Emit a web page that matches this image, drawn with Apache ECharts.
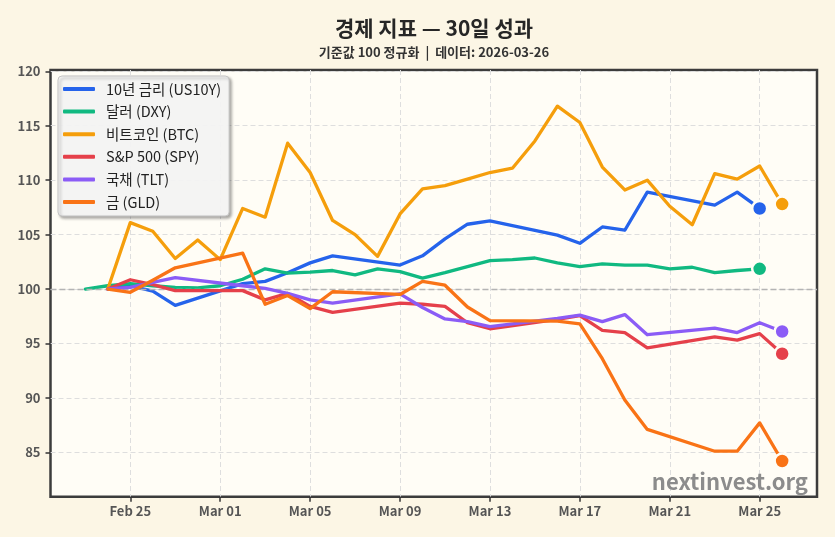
<!DOCTYPE html>
<html>
<head>
<meta charset="utf-8">
<script src="https://cdn.jsdelivr.net/npm/echarts@6/dist/echarts.min.js"></script>
<style>
  html, body { margin: 0; padding: 0; background: #fcf6e5; }
  #main { width: 835px; height: 537px; }
</style>
</head>
<body>
<div id="main"></div>
<script>
// 날짜: Feb 23 ~ Mar 26 (Feb 25 = 0)
const days = ['Feb 23','Feb 24','Feb 25','Feb 26','Feb 27','Feb 28','Mar 01','Mar 02','Mar 03','Mar 04',
  'Mar 05','Mar 06','Mar 07','Mar 08','Mar 09','Mar 10','Mar 11','Mar 12','Mar 13','Mar 14','Mar 15',
  'Mar 16','Mar 17','Mar 18','Mar 19','Mar 20','Mar 21','Mar 22','Mar 23','Mar 24','Mar 25','Mar 26'];
const tickLabels = ['Feb 25','Mar 01','Mar 05','Mar 09','Mar 13','Mar 17','Mar 21','Mar 25'];
const yTicks = [85, 90, 95, 100, 105, 110, 115, 120];

const us10y = [null, 100, 100.3, 99.8, 98.5, null, null, 100.5, 100.7, 101.5, 102.4, 103.05, null, null,
  102.2, 103.05, 104.6, 105.95, 106.25, null, null, 104.95, 104.2, 105.7, 105.4, 108.9, null, null,
  107.7, 108.9, 107.4, null];
const dxy = [100, 100.3, 100.5, 100.3, 100.15, 100.1, 100.3, 100.9, 101.85, 101.45, 101.55, 101.7, 101.3, 101.85,
  101.6, 101.0, 101.5, 102.05, 102.6, 102.7, 102.85, 102.4, 102.05, 102.3, 102.2, 102.2, 101.85, 102.0,
  101.5, 101.7, 101.85, null];
const btc = [null, 100, 106.1, 105.3, 102.8, 104.5, 102.7, 107.4, 106.6, 113.4, 110.7, 106.3, 105.0, 103.0,
  106.9, 109.2, 109.5, 110.1, 110.7, 111.1, 113.6, 116.8, 115.3, 111.2, 109.1, 110.0, 107.6, 105.9,
  110.6, 110.1, 111.3, 107.8];
const spy = [null, 100, 100.85, 100.4, 99.85, null, null, 99.85, 99.0, 99.6, 98.4, 97.85, null, null,
  98.7, 98.6, 98.4, 96.9, 96.35, null, null, 97.2, 97.55, 96.2, 96.0, 94.6, null, null,
  95.6, 95.3, 95.9, 94.05];
const tlt = [null, 100, 100.15, 100.6, 101.05, null, null, 100.3, 100.05, 99.6, 99.0, 98.7, null, null,
  99.55, 98.3, 97.25, 97.0, 96.55, null, null, 97.3, 97.6, 97.0, 97.65, 95.8, null, null,
  96.4, 96.0, 96.9, 96.1];
const gld = [null, 100, 99.7, 100.8, 101.95, null, null, 103.3, 98.6, 99.4, 98.2, 99.75, null, null,
  99.5, 100.7, 100.35, 98.35, 97.1, null, null, 97.05, 96.8, 93.6, 89.8, 87.1, null, null,
  85.1, 85.1, 87.7, 84.2];

const names = ['10년 금리 (US10Y)', '달러 (DXY)', '비트코인 (BTC)', 'S&P 500 (SPY)', '국채 (TLT)', '금 (GLD)'];
const colors = ['#2563eb', '#10b981', '#f59e0b', '#e5404a', '#8b5cf6', '#f97316'];
const allVals = [us10y, dxy, btc, spy, tlt, gld];

const BG = '#fcf6e5';
const PLOT_BG = '#fffdf6';
const FONT = '"Noto Sans CJK KR", "Noto Sans", sans-serif';

const dayOffset = days.map((d, i) => i - 2);
const tickDays = tickLabels.map(t => dayOffset[days.indexOf(t)]);

function buildData(vals) {
  let pts = [];
  vals.forEach((v, i) => { if (v != null) pts.push([dayOffset[i], v]); });
  let last = pts.pop();
  pts.push({
    value: last,
    symbol: 'circle',
    symbolSize: 15,
    itemStyle: { borderColor: PLOT_BG, borderWidth: 2.5 }
  });
  return pts;
}

let series = allVals.map((vals, k) => ({
  name: names[k],
  type: 'line',
  data: buildData(vals),
  symbol: 'none',
  color: colors[k],
  lineStyle: { width: 3.3, cap: 'round', join: 'round' },
  z: 3 + k
}));
// 기준선 100
series[0].markLine = {
  silent: true,
  symbol: 'none',
  label: { show: false },
  lineStyle: { color: '#b4b4b4', width: 1.3, type: [6, 3] },
  data: [{ yAxis: 100 }]
};

let myChart = echarts.init(document.getElementById('main'));
let option = {
  animation: false,
  backgroundColor: BG,
  graphic: [
    { type: 'text', x: 434, y: 28, style: { text: '경제 지표 — 30일 성과', fill: '#262626',
      font: 'bold 21px ' + FONT, textAlign: 'center', textVerticalAlign: 'middle' } },
    { type: 'text', x: 434, y: 52, style: { text: '기준값 100 정규화  |  데이터: 2026-03-26', fill: '#333',
      font: 'bold 13px ' + FONT, textAlign: 'center', textVerticalAlign: 'middle' } },
    { type: 'text', x: 808, y: 482, z: 100, style: { text: 'nextinvest.org', fill: '#8c8c8c',
      font: 'bold 22px ' + FONT, textAlign: 'right', textVerticalAlign: 'middle' } }
  ],
  grid: {
    left: 50.5, right: 18, top: 70, bottom: 40.3,
    show: true, backgroundColor: PLOT_BG, borderColor: '#3c3c3c', borderWidth: 2.5
  },
  legend: {
    orient: 'vertical',
    left: 58, top: 76,
    data: names,
    icon: 'roundRect',
    itemWidth: 32, itemHeight: 4,
    itemGap: 6.6,
    padding: [5, 8, 6, 5],
    backgroundColor: 'rgba(250,250,250,0.92)',
    borderColor: '#c4c4c4', borderWidth: 1, borderRadius: 4,
    shadowBlur: 3, shadowColor: 'rgba(0,0,0,0.35)', shadowOffsetX: 2, shadowOffsetY: 2,
    textStyle: { fontFamily: FONT, fontSize: 14.5, color: '#222', lineHeight: 16, padding: [0, 0, 0, 6] }
  },
  xAxis: {
    type: 'value',
    min: -3.55, max: 30.55,
    axisLine: { show: false, onZero: false },
    axisTick: { show: true, customValues: tickDays, length: 5, lineStyle: { color: '#333', width: 1.5 } },
    axisLabel: {
      customValues: tickDays, margin: 8,
      fontFamily: FONT, fontSize: 13, fontWeight: 'bold', color: '#555',
      formatter: v => tickLabels[tickDays.indexOf(Math.round(v))] || ''
    },
    splitLine: { show: true, lineStyle: { color: '#dedede', type: [5, 3], width: 1 } }
  },
  yAxis: {
    type: 'value',
    min: 80.92, max: 120.12,
    axisLine: { show: false, onZero: false },
    axisTick: { show: true, customValues: yTicks, length: 5, lineStyle: { color: '#333', width: 1.5 } },
    axisLabel: {
      customValues: yTicks, margin: 10,
      fontFamily: FONT, fontSize: 13, fontWeight: 'bold', color: '#555'
    },
    splitLine: { show: true, lineStyle: { color: '#dedede', type: [5, 3], width: 1 } }
  },
  series: series
};
myChart.setOption(option);
</script>
</body>
</html>
